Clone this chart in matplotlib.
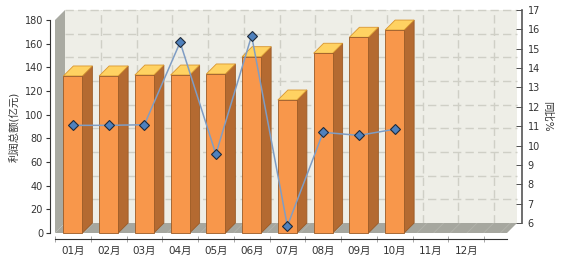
"""Profit total (bars, 3D look) and YoY % (line) by month."""

import matplotlib
matplotlib.use("Agg")
import matplotlib.pyplot as plt
from matplotlib.patches import Polygon, Rectangle
import numpy as np

plt.rcParams["font.family"] = ["DejaVu Sans", "Noto Sans CJK SC"]
plt.rcParams["hatch.linewidth"] = 0.6

months = ["01月", "02月", "03月", "04月", "05月", "06月",
          "07月", "08月", "09月", "10月", "11月", "12月"]
profit = [132.7, 132.7, 133.5, 133.5, 134.4, 149.0, 112.4, 151.9, 165.4, 171.5]
yoy = [11.56, 11.56, 11.59, 15.85, 10.07, 16.19, 6.36, 11.20, 11.04, 11.36]
left_ticks = list(range(0, 181, 20))
right_ticks = list(range(6, 18))

COLORS = {
    "ink": "#333333",
    "wall": "#eeeee7",
    "grid": "#cfcfc6",
    "side_wall": "#a9aaa2",
    "floor": "#a6a79f",
    "front": "#f8974b",
    "side": "#b46a31",
    "top": "#ffd262",
    "edge": "#9a5a26",
    "line": "#7f9dc4",
    "marker": "#4f81bd",
}

W, H = 564, 258
fig = plt.figure(figsize=(W / 100, H / 100), dpi=100)
fig.patch.set_facecolor("white")

# front plane of the 3D box, in pixels
fx0, fx1, fy_bot, fy_top = 55, 507, 233, 20
depth = 10
ax = fig.add_axes([fx0 / W, (H - fy_bot) / H, (fx1 - fx0) / W, (fy_bot - fy_top) / H])
ax.patch.set_visible(False)

cat_px = 35.75
xmin = -0.5
xmax = xmin + (fx1 - fx0) / cat_px
ax.set_xlim(xmin, xmax)
ax.set_ylim(0, 180)

ddx = depth * (xmax - xmin) / (fx1 - fx0)
ddy = depth * 180 / (fy_bot - fy_top)

# back wall + grid
ax.add_patch(Rectangle((xmin + ddx, ddy), xmax - xmin, 180, facecolor=COLORS["wall"],
                       edgecolor="none", clip_on=False, zorder=0))
for v in left_ticks[1:]:
    ax.plot([xmin + ddx, xmax + ddx], [v + ddy, v + ddy], color=COLORS["grid"],
            lw=1, ls=(0, (6, 3)), clip_on=False, zorder=0.5)
for b in np.arange(0.5, 12, 1.0):
    ax.plot([b + ddx, b + ddx], [ddy, 180 + ddy], color=COLORS["grid"],
            lw=1, ls=(0, (6, 3)), clip_on=False, zorder=0.5)

# side wall and floor
ax.add_patch(Polygon([(xmin, 0), (xmin, 180), (xmin + ddx, 180 + ddy), (xmin + ddx, ddy)],
                     closed=True, facecolor=COLORS["side_wall"], edgecolor="none",
                     clip_on=False, zorder=1))
ax.add_patch(Polygon([(xmin, 0), (xmax, 0), (xmax + ddx, ddy), (xmin + ddx, ddy)],
                     closed=True, facecolor=COLORS["floor"], edgecolor="#b3b4ac",
                     hatch="//", lw=0, clip_on=False, zorder=1))

# 3D bars
hw = 9.5 * (xmax - xmin) / (fx1 - fx0)
for i, v in enumerate(profit):
    side = [(i + hw, 0), (i + hw, v), (i + hw + ddx, v + ddy), (i + hw + ddx, ddy)]
    top = [(i - hw, v), (i + hw, v), (i + hw + ddx, v + ddy), (i - hw + ddx, v + ddy)]
    ax.add_patch(Polygon(side, closed=True, facecolor=COLORS["side"],
                         edgecolor=COLORS["edge"], lw=0.6, clip_on=False, zorder=2))
    ax.add_patch(Polygon(top, closed=True, facecolor=COLORS["top"],
                         edgecolor="#d9962f", lw=0.6, clip_on=False, zorder=2))
    ax.add_patch(Rectangle((i - hw, 0), 2 * hw, v, facecolor=COLORS["front"],
                           edgecolor=COLORS["edge"], lw=0.6, clip_on=False, zorder=3))

# axes styling (front)
for name in ["top", "right"]:
    ax.spines[name].set_visible(False)
ax.spines["left"].set_position(("outward", 3.6))
ax.spines["bottom"].set_position(("outward", 4.3))
ax.spines["left"].set_color(COLORS["ink"])
ax.spines["bottom"].set_color(COLORS["ink"])
ax.spines["left"].set_bounds(0, 180)
ax.set_yticks(left_ticks)
ax.tick_params(axis="y", direction="out", length=3, width=0.8, pad=2,
               labelsize=7, colors=COLORS["ink"])
ax.set_xticks(range(12), months)
ax.set_xticks(np.arange(xmin, 12, 1.0), minor=True)
ax.tick_params(axis="x", which="major", length=0, pad=5, labelsize=7.5, colors=COLORS["ink"])
ax.tick_params(axis="x", which="minor", direction="inout", length=5, width=0.6,
               color="#999999")
ax.set_ylabel("利润总额(亿元)", fontsize=7.5, color=COLORS["ink"], labelpad=4)

# line on the right scale
ax2 = ax.twinx()
ax2.set_ylim(6, 17)
ax2.set_xlim(xmin, xmax)
ax2.axis("off")
ax2.plot(range(len(yoy)), yoy, color=COLORS["line"], lw=1.1, marker="D", ms=5,
         mfc=COLORS["marker"], mec="#1f2a3a", mew=0.8, clip_on=False, zorder=5)

# right axis sits on the back wall
axr = fig.add_axes([(fx0 + depth) / W, (H - fy_bot + depth) / H,
                    (fx1 - fx0) / W, (fy_bot - fy_top) / H])
axr.patch.set_visible(False)
axr.set_xlim(xmin, xmax)
axr.set_ylim(6, 17)
for name in ["top", "left", "bottom"]:
    axr.spines[name].set_visible(False)
axr.spines["right"].set_position(("outward", 3.6))
axr.spines["right"].set_color("#555555")
axr.spines["right"].set_linewidth(1.2)
axr.set_xticks([])
axr.yaxis.tick_right()
axr.set_yticks(right_ticks)
axr.tick_params(axis="y", direction="in", length=4, width=0.6, pad=4,
                labelsize=7, colors=COLORS["ink"])
axr.yaxis.set_label_position("right")
axr.set_ylabel("同比%", fontsize=7.5, color=COLORS["ink"], rotation=-90, labelpad=9)

fig.savefig("out.png", dpi=100, facecolor=fig.get_facecolor())
